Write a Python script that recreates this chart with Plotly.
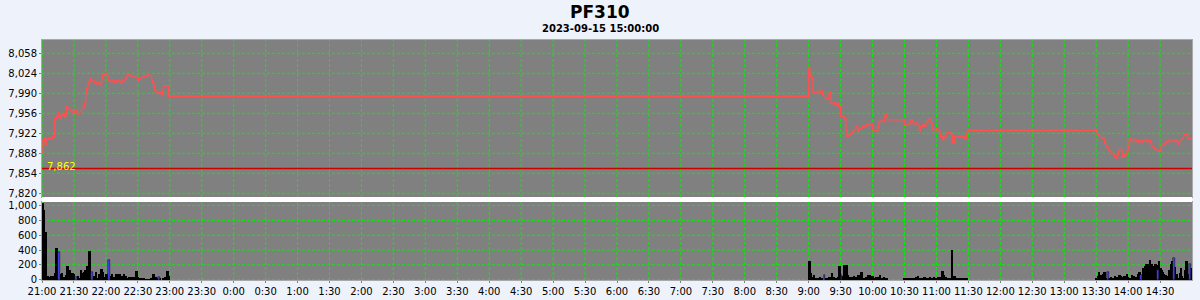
import plotly.graph_objects as go
import pandas as pd

symbol = "PF310"
stamp = "2023-09-15 15:00:00"
ref_price = 7862

price_times = [
    "21:00", "21:01", "21:02", "21:03", "21:04", "21:06", "21:08", "21:10", "21:12", "21:14",
    "21:15", "21:16", "21:17", "21:18", "21:20", "21:21", "21:22", "21:23", "21:24", "21:26",
    "21:28", "21:30", "21:31", "21:33", "21:35", "21:37", "21:39", "21:40", "21:41", "21:42",
    "21:43", "21:44", "21:45", "21:46", "21:47", "21:49", "21:51", "21:53", "21:54", "21:56",
    "21:57", "21:59", "22:00", "22:01", "22:02", "22:04", "22:06", "22:08", "22:10", "22:12",
    "22:13", "22:15", "22:17", "22:18", "22:19", "22:20", "22:22", "22:24", "22:26", "22:28",
    "22:30", "22:31", "22:33", "22:35", "22:37", "22:39", "22:40", "22:41", "22:43", "22:44",
    "22:45", "22:46", "22:47", "22:49", "22:50", "22:52", "22:53", "22:54", "22:56", "22:58",
    "22:59",
    "9:00", "9:01", "9:02", "9:03", "9:04", "9:05", "9:07", "9:08", "9:10", "9:11",
    "9:13", "9:14", "9:16", "9:18", "9:19", "9:20", "9:21", "9:22", "9:24", "9:25",
    "9:27", "9:28", "9:30", "9:32", "9:33", "9:35", "9:36", "9:38", "9:40", "9:41",
    "9:43", "9:44", "9:46", "9:47", "9:49", "9:50", "9:52", "9:54", "9:55", "9:57",
    "9:58", "10:00", "10:02", "10:03", "10:05", "10:06", "10:08", "10:09", "10:11", "10:12",
    "10:13", "10:14",
    "10:30", "10:31", "10:33", "10:35", "10:36", "10:38", "10:39", "10:41", "10:42", "10:44",
    "10:45", "10:47", "10:49", "10:50", "10:52", "10:53", "10:55", "10:56", "10:58", "11:00",
    "11:01", "11:03", "11:04", "11:06", "11:07", "11:09", "11:11", "11:12", "11:14", "11:15",
    "11:17", "11:18", "11:20", "11:22", "11:23", "11:25", "11:26", "11:28", "11:29",
    "13:31", "13:32", "13:34", "13:35", "13:37", "13:38", "13:39", "13:41", "13:42", "13:44",
    "13:46", "13:47", "13:49", "13:50", "13:51", "13:52", "13:54", "13:55", "13:56", "13:57",
    "13:59", "14:00", "14:01", "14:02", "14:03", "14:05", "14:07", "14:08", "14:10", "14:11",
    "14:13", "14:14", "14:16", "14:17", "14:19", "14:21", "14:22", "14:24", "14:25", "14:27",
    "14:28", "14:30", "14:31", "14:33", "14:34", "14:36", "14:38", "14:39", "14:41", "14:42",
    "14:44", "14:45", "14:47", "14:48", "14:50", "14:52", "14:53", "14:55", "14:56", "14:58",
    "14:59", "15:00",
]
price_values = [
    7888, 7910, 7914, 7903, 7912, 7913, 7913, 7916, 7947, 7950,
    7957, 7950, 7946, 7953, 7956, 7949, 7952, 7967, 7963, 7961,
    7958, 7956, 7961, 7955, 7958, 7963, 7968, 7974, 7990, 7998,
    8003, 8010, 8015, 8010, 8011, 8008, 8006, 8008, 8005, 8015,
    8021, 8023, 8024, 8020, 8011, 8010, 8012, 8009, 8011, 8012,
    8008, 8011, 8012, 8015, 8016, 8022, 8021, 8019, 8020, 8016,
    8012, 8015, 8017, 8018, 8019, 8021, 8023, 8020, 8011, 8008,
    8001, 7995, 7992, 7992, 7991, 7986, 7994, 8002, 8003, 8002,
    7985,
    8034, 8021, 8018, 8015, 7991, 7991, 7992, 7993, 7991, 7994,
    7987, 7983, 7981, 7980, 7990, 7992, 7973, 7972, 7974, 7971,
    7973, 7967, 7951, 7951, 7947, 7928, 7917, 7919, 7923, 7925,
    7928, 7933, 7926, 7929, 7930, 7933, 7934, 7936, 7938, 7936,
    7938, 7928, 7927, 7927, 7933, 7942, 7943, 7942, 7950, 7955,
    7949, 7945,
    7936, 7936, 7938, 7939, 7945, 7938, 7939, 7940, 7936, 7926,
    7933, 7936, 7934, 7942, 7945, 7946, 7939, 7928, 7928, 7930,
    7926, 7922, 7916, 7911, 7917, 7922, 7923, 7923, 7919, 7906,
    7916, 7915, 7916, 7917, 7916, 7917, 7913, 7919, 7927,
    7920, 7918, 7918, 7914, 7912, 7905, 7899, 7894, 7892, 7888,
    7885, 7882, 7879, 7886, 7892, 7895, 7891, 7881, 7882, 7886,
    7892, 7899, 7911, 7913, 7908, 7912, 7908, 7910, 7907, 7909,
    7907, 7911, 7909, 7908, 7910, 7905, 7899, 7896, 7895, 7894,
    7892, 7892, 7901, 7903, 7905, 7908, 7911, 7908, 7909, 7909,
    7910, 7908, 7903, 7908, 7912, 7918, 7920, 7919, 7913, 7912,
    7912, 7912,
]

vol_times = [
    "21:01", "21:02", "21:03", "21:04", "21:06", "21:07", "21:09", "21:10", "21:12", "21:13",
    "21:14", "21:18", "21:19", "21:21", "21:23", "21:24", "21:26", "21:27", "21:29", "21:30",
    "21:34", "21:35", "21:37", "21:38", "21:40", "21:41", "21:43", "21:45", "21:46", "21:49",
    "21:51", "21:53", "21:54", "21:56", "21:57", "21:59", "22:01", "22:05", "22:06", "22:08",
    "22:10", "22:11", "22:13", "22:14", "22:16", "22:17", "22:19", "22:20", "22:22", "22:24",
    "22:26", "22:27", "22:29", "22:30", "22:32", "22:34", "22:36", "22:37", "22:39", "22:41",
    "22:43", "22:45", "22:47", "22:48", "22:51", "22:54", "22:56", "22:58", "22:59",
    "9:01", "9:02", "9:04", "9:05", "9:07", "9:09", "9:11", "9:13", "9:17", "9:19",
    "9:20", "9:22", "9:24", "9:26", "9:28", "9:29", "9:32", "9:34", "9:36", "9:37",
    "9:39", "9:41", "9:43", "9:45", "9:47", "9:49", "9:50", "9:52", "9:54", "9:56",
    "9:58", "10:00", "10:02", "10:04", "10:06", "10:07", "10:09", "10:11", "10:13", "10:14",
    "10:30", "10:32", "10:34", "10:36", "10:37", "10:39", "10:41", "10:43", "10:45", "10:47",
    "10:49", "10:51", "10:52", "10:54", "10:56", "10:58", "11:00", "11:02", "11:04", "11:06",
    "11:07", "11:09", "11:11", "11:13", "11:15", "11:17", "11:19", "11:21", "11:23", "11:25",
    "11:27", "11:29",
    "13:30", "13:32", "13:33", "13:35", "13:37", "13:38", "13:39", "13:42", "13:44", "13:46",
    "13:48", "13:50", "13:52", "13:53", "13:55", "13:57", "13:59", "14:00", "14:02", "14:04",
    "14:06", "14:08", "14:10", "14:11", "14:14", "14:16", "14:17", "14:18", "14:19", "14:21",
    "14:22", "14:23", "14:24", "14:26", "14:27", "14:29", "14:31", "14:32", "14:33", "14:34",
    "14:36", "14:38", "14:39", "14:41", "14:42", "14:44", "14:46", "14:47", "14:49", "14:50",
    "14:51", "14:53", "14:54", "14:55", "14:56", "14:59",
]
vol_values = [
    1040, 940, 650, 650, 55, 40, 55, 40, 55, 85,
    424, 72, 85, 40, 62, 180, 130, 72, 85, 72,
    55, 27, 130, 85, 99, 130, 180, 386, 110, 55,
    99, 27, 72, 145, 99, 40, 72, 55, 72, 36,
    72, 27, 72, 27, 55, 72, 55, 27, 36, 36,
    36, 18, 117, 36, 27, 18, 27, 9, 9, 9,
    18, 72, 36, 27, 27, 27, 36, 117, 55,
    248, 86, 36, 59, 23, 14, 36, 23, 14, 23,
    36, 86, 36, 23, 36, 185, 50, 194, 203, 68,
    36, 36, 50, 36, 68, 36, 104, 23, 36, 59,
    59, 50, 23, 36, 36, 68, 23, 36, 23, 14,
    23, 23, 14, 23, 23, 14, 36, 50, 23, 23,
    36, 14, 23, 36, 23, 36, 23, 36, 36, 112,
    59, 36, 23, 23, 395, 50, 23, 23, 23, 23,
    23, 14,
    27, 45, 99, 59, 81, 108, 27, 27, 36, 27,
    45, 36, 59, 45, 36, 45, 72, 36, 27, 59,
    45, 36, 81, 103, 162, 180, 207, 180, 207, 261,
    207, 180, 162, 207, 194, 252, 162, 126, 103, 81,
    59, 45, 126, 207, 252, 171, 81, 27, 90, 162,
    45, 27, 131, 252, 81, 162,
]

blue_times = ["21:16", "21:32", "21:47", "22:03", "22:50", "9:15", "9:31",
              "13:41", "14:12", "14:28", "14:43", "14:58"]
blue_values = [370, 30, 110, 263, 36, 68, 68, 99, 63, 131, 297, 216]

price_ticks = [7820, 7854, 7888, 7922, 7956, 7990, 8024, 8058]
price_tick_text = ["7,820", "7,854", "7,888", "7,922", "7,956", "7,990", "8,024", "8,058"]
vol_ticks = [0, 200, 400, 600, 800, 1000]
vol_tick_text = ["0", "200", "400", "600", "800", "1,000"]


def to_dt(t):
    h, m = t.split(":")
    day = "2023-09-14" if int(h) >= 21 else "2023-09-15"
    return pd.Timestamp(f"{day} {int(h):02d}:{int(m):02d}:00")


px_t = [to_dt(t) for t in price_times]
vx_t = [to_dt(t) for t in vol_times]
bx_t = [to_dt(t) for t in blue_times]

x_start = pd.Timestamp("2023-09-14 21:00:00")
x_end = pd.Timestamp("2023-09-15 15:00:00")
x_ticks = list(pd.date_range(x_start, pd.Timestamp("2023-09-15 14:30:00"), freq="30min"))
x_tick_text = [f"{t.hour}:{t.minute:02d}" for t in x_ticks]

BG = "#eef2fb"
PLOT = "#808080"
GRID = "#00f000"
FONT = "DejaVu Sans"
DASH = "3px,2px"

fig = go.Figure()
fig.add_trace(go.Scatter(
    x=px_t, y=price_values, mode="lines", line=dict(color="#ff5050", width=1.4, shape="hv"),
    xaxis="x", yaxis="y", hoverinfo="skip", showlegend=False))
fig.add_trace(go.Bar(
    x=vx_t, y=vol_values, width=110000, marker=dict(color="#000000", line=dict(width=0)),
    xaxis="x2", yaxis="y2", showlegend=False, hoverinfo="skip"))
fig.add_trace(go.Bar(
    x=bx_t, y=blue_values, width=80000,
    marker=dict(color="#4848ff", line=dict(color="#000000", width=0.5)),
    xaxis="x2", yaxis="y2", showlegend=False, hoverinfo="skip"))

axis_common = dict(
    showgrid=False, zeroline=False, showline=True, linecolor="#a8a8a8", linewidth=1, mirror=True,
    ticks="outside", ticklen=2, tickcolor="#808080", automargin=False,
    tickfont=dict(family=FONT, size=10, color="#000000"),
)

top_dom = [(280 - 197) / 240, 1.0]
bot_dom = [0.0, (280 - 202) / 240]

# dashed grid lines, one shape per tick (drawn under the data)
grid_shapes = []
for t in x_ticks:
    for xr, yr in (("x", "y domain"), ("x2", "y2 domain")):
        grid_shapes.append(dict(type="line", xref=xr, yref=yr, x0=t, x1=t, y0=0, y1=1,
                                line=dict(color=GRID, width=1, dash=DASH), layer="below"))
for v in price_ticks:
    grid_shapes.append(dict(type="line", xref="x domain", yref="y", x0=0, x1=1, y0=v, y1=v,
                            line=dict(color=GRID, width=1, dash=DASH), layer="below"))
for v in vol_ticks:
    grid_shapes.append(dict(type="line", xref="x2 domain", yref="y2", x0=0, x1=1, y0=v, y1=v,
                            line=dict(color=GRID, width=1, dash=DASH), layer="below"))

fig.update_layout(
    width=1200, height=300,
    margin=dict(l=42, r=8, t=40, b=20, autoexpand=False),
    paper_bgcolor=BG, plot_bgcolor=PLOT,
    bargap=0, barmode="overlay",
    xaxis=dict(axis_common, domain=[0, 1], anchor="y", range=[x_start, x_end],
               tickvals=x_ticks, ticktext=x_tick_text, showticklabels=False, ticks=""),
    yaxis=dict(axis_common, domain=top_dom, anchor="x", range=[7813.7, 8080.6],
               tickvals=price_ticks, ticktext=price_tick_text),
    xaxis2=dict(axis_common, domain=[0, 1], anchor="y2", range=[x_start, x_end],
                matches="x", tickvals=x_ticks, ticktext=x_tick_text),
    yaxis2=dict(axis_common, domain=bot_dom, anchor="x2", range=[-4, 1048],
                tickvals=vol_ticks, ticktext=vol_tick_text),
    shapes=grid_shapes + [
        dict(type="line", xref="x domain", yref="y", x0=0, x1=1, y0=ref_price, y1=ref_price,
             line=dict(color="#cc0000", width=1.5), layer="above"),
        dict(type="rect", xref="paper", yref="paper", x0=0, x1=1,
             y0=bot_dom[1], y1=top_dom[0], fillcolor="#ffffff", line=dict(width=0)),
    ],
    annotations=[
        dict(text=f"<b>{symbol}</b>", xref="paper", yref="paper",
             x=(600 - 42) / 1150, y=(280 - 12) / 240, showarrow=False,
             font=dict(family=FONT, size=17, color="#000000"), xanchor="center", yanchor="middle"),
        dict(text=f"<b>{stamp}</b>", xref="paper", yref="paper",
             x=(600 - 42) / 1150, y=(280 - 28.5) / 240, showarrow=False,
             font=dict(family=FONT, size=10, color="#000000"), xanchor="center", yanchor="middle"),
        dict(text=f"{ref_price:,}", xref="paper", yref="y", x=0.003, y=ref_price,
             showarrow=False, xanchor="left", yanchor="middle", yshift=2,
             font=dict(family=FONT, size=10, color="#ffff00")),
    ],
)

fig.write_html("out.html")
